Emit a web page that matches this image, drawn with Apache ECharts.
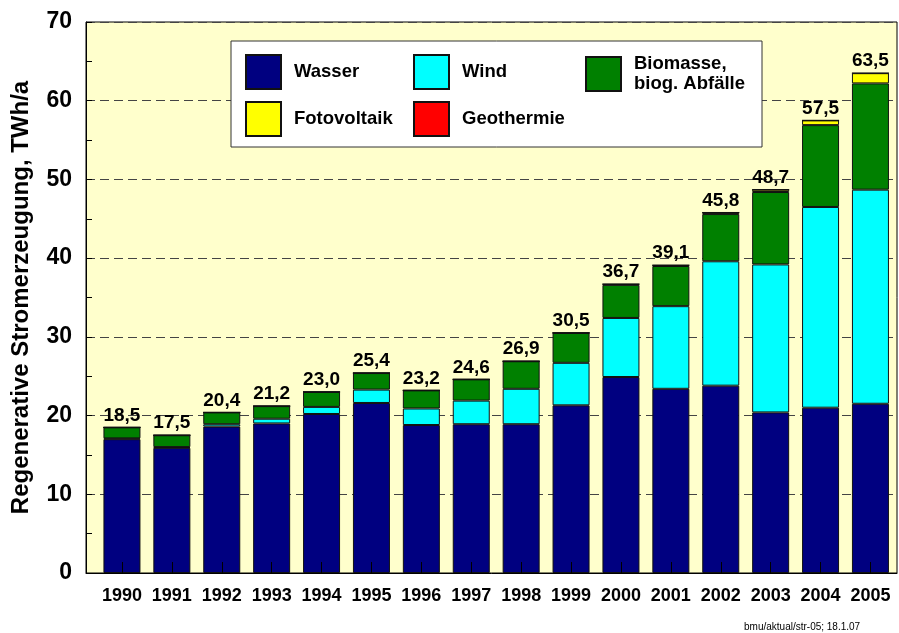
<!DOCTYPE html>
<html><head><meta charset="utf-8">
<script src="https://cdn.jsdelivr.net/npm/echarts@6/dist/echarts.min.js"></script>
<style>html,body{margin:0;padding:0;background:#fff}#c{width:899px;height:633px}</style>
</head><body><div id="c"></div>
<script>
const years = ['1990','1991','1992','1993','1994','1995','1996','1997','1998','1999','2000','2001','2002','2003','2004','2005'];
const wasser = [17.0,15.9,18.6,19.0,20.2,21.6,18.8,18.9,18.9,21.3,24.9,23.4,23.8,20.4,21.0,21.5];
const wind = [0.1,0.1,0.3,0.6,0.9,1.7,2.1,3.0,4.5,5.4,7.5,10.5,15.8,18.8,25.5,27.2];
const biomasse = [1.4,1.5,1.5,1.6,1.9,2.1,2.3,2.7,3.5,3.8,4.2,5.1,6.0,9.2,10.4,13.5];
const fotovoltaik = [0,0,0,0,0,0,0,0,0,0,0.1,0.1,0.2,0.3,0.6,1.3];
const geothermie = [0,0,0,0,0,0,0,0,0,0,0,0,0,0,0,0];
const totals = ['18,5','17,5','20,4','21,2','23,0','25,4','23,2','24,6','26,9','30,5','36,7','39,1','45,8','48,7','57,5','63,5'];
const yTicks = [0,10,20,30,40,50,60,70];

const FONT = "'Liberation Sans', Arial, sans-serif";
const names = ['Wasser','Wind','Biomasse,\nbiog. Abfälle','Fotovoltaik','Geothermie'];
const colors = ['#000080','#00FFFF','#008000','#FFFF00','#FF0000'];
const dataSets = [wasser, wind, biomasse, fotovoltaik, geothermie];

const chart = echarts.init(document.getElementById('c'), null, {renderer:'canvas'});

const series = dataSets.map((d, i) => ({
  name: names[i], type: 'bar', stack: 'total', xAxisIndex: 1, yAxisIndex: 1,
  barWidth: 37, data: d, z: 2,
  itemStyle: {color: colors[i], borderColor: '#111', borderWidth: 1},
  label: i === 4 ? {
    show: true, position: 'top', distance: 2,
    formatter: p => totals[p.dataIndex],
    fontFamily: FONT, fontWeight: 'bold', fontSize: 19, color: '#000'
  } : {show: false}
}));

const legendPos = [[245,54],[413,54],[585,54],[245,101],[413,101]];
const legends = names.map((n, i) => ({
  data: [n], left: legendPos[i][0], top: legendPos[i][1], padding: 0,
  itemWidth: 35, itemHeight: 34, icon: 'rect', z: 10, selectedMode: false,
  textStyle: {fontFamily: FONT, fontWeight: 'bold', fontSize: 18.5, color: '#000', lineHeight: 20, padding: [0,0,0,8]}
}));

chart.setOption({
  animation: false,
  backgroundColor: '#fff',
  grid: [
    {left: 86, right: 2, top: 22, bottom: 60, show: true, backgroundColor: '#FFFFCC', borderColor: '#000', borderWidth: 1},
    {left: 97, right: 3.6, top: 22, bottom: 60}
  ],
  xAxis: [
    {gridIndex: 0, type: 'value', min: 0, max: 1, axisLabel: {show: false}, axisTick: {show: false}, splitLine: {show: false},
     axisLine: {show: true, lineStyle: {color: '#000', width: 1}}},
    {gridIndex: 1, type: 'category', data: years, z: 10,
     axisLine: {show: false},
     axisTick: {show: true, inside: true, alignWithLabel: true, interval: 0, length: 11, lineStyle: {color: '#000', width: 1}},
     axisLabel: {interval: 0, fontFamily: FONT, fontWeight: 'bold', fontSize: 18, color: '#000', margin: 14}}
  ],
  yAxis: [
    {gridIndex: 0, type: 'value', min: 0, max: 70, interval: 10,
     name: 'Regenerative Stromerzeugung, TWh/a', nameLocation: 'middle', nameRotate: 90, nameGap: 53,
     nameTextStyle: {fontFamily: FONT, fontWeight: 'bold', fontSize: 24, color: '#000'},
     axisLine: {show: true, lineStyle: {color: '#000', width: 1}},
     axisTick: {show: true, inside: true, length: 6, lineStyle: {color: '#000'}},
     minorTick: {show: true, splitNumber: 2, length: 6, lineStyle: {color: '#000'}},
     splitLine: {show: true, lineStyle: {color: '#444', type: [9,5], width: 1}},
     axisLabel: {fontFamily: FONT, fontWeight: 'bold', fontSize: 23, color: '#000', margin: 14,
       customValues: yTicks}},
    {gridIndex: 1, type: 'value', min: 0, max: 70, show: false, splitLine: {show: false}}
  ],
  legend: legends,
  graphic: [
    {type: 'rect', z: 5, shape: {x: 231, y: 41, width: 531, height: 106}, style: {fill: '#fff', stroke: '#333', lineWidth: 1}},
    {type: 'text', z: 5, left: 744, top: 622, style: {text: 'bmu/aktual/str-05; 18.1.07', fontFamily: FONT, fontSize: 10, fill: '#000'}}
  ],
  series: series
});
</script>
</body></html>
